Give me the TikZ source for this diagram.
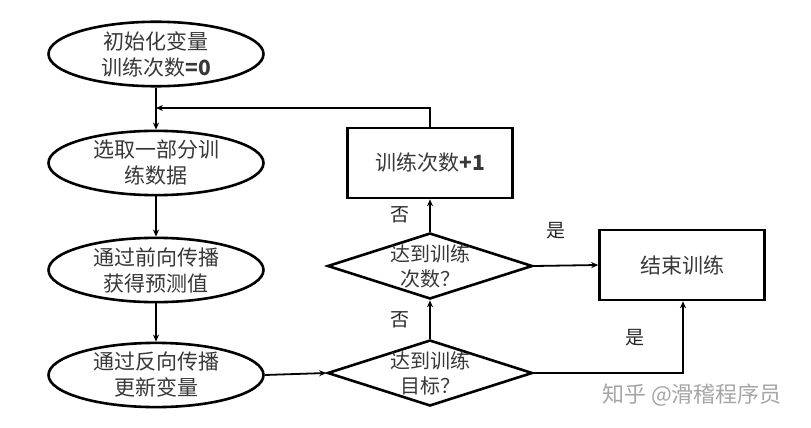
\documentclass[tikz,border=0pt]{standalone}
\usepackage{fontspec}
\setmainfont{Noto Sans CJK SC}
\usetikzlibrary{shapes.geometric,arrows.meta}
\begin{document}
\begin{tikzpicture}[x=1pt,y=-1pt,
  every node/.style={font=\fontsize{21}{26}\selectfont, text=black!78},
  ell/.style={ellipse, draw=black, line width=2.6pt, minimum width=215pt, minimum height=61pt, inner sep=0pt, align=center},
  dia/.style={diamond, draw=black, line width=2.6pt, minimum width=205pt, minimum height=66pt, inner sep=0pt},
  boxnode/.style={rectangle, draw=black, line width=2.6pt, minimum width=165pt, minimum height=70pt, inner sep=0pt, align=center},
  txt/.style={align=center, inner sep=0pt, font=\fontsize{20}{25}\selectfont},
  lbl/.style={font=\fontsize{19}{21}\selectfont, text=black!85, inner sep=0pt},
  conn/.style={draw=black, line width=1.8pt, -{Stealth[length=7pt,width=6pt]}}
]
\useasboundingbox[fill=white] (0,0) rectangle (811,428);

\node[ell] (e1) at (156,54) {初始化变量\\训练次数\textbf{=0}};
\node[ell] (e2) at (156,163) {选取一部分训\\练数据};
\node[ell] (e3) at (156,270) {通过前向传播\\获得预测值};
\node[ell] (e4) at (156,375) {通过反向传播\\更新变量};

\node[boxnode] (r1) at (430,163) {训练次数\textbf{+1}};
\node[dia] (d1) at (430,266) {};
\node[txt] at (d1) {达到训练\\次数？};
\node[dia] (d2) at (430,373) {};
\node[txt] at (d2) {达到训练\\目标？};
\node[boxnode] (r2) at (682,265) {结束训练};

\coordinate (j1) at (156,108);
\coordinate (t1) at (430,108);
\coordinate (c2) at (683,373);

\draw[conn] (e1.south) -- (e2.north);
\draw[conn] (r1.north) -- (t1) -- (j1);
\draw[conn] (e2.south) -- (e3.north);
\draw[conn] (e3.south) -- (e4.north);
\draw[conn] (e4.east) -- (d2.west);
\draw[conn] (d2.north) -- (d1.south);
\draw[conn] (d1.north) -- (r1.south);
\draw[conn] (d1.east) -- (r2.west);
\draw[conn] (d2.east) -- (c2) -- (r2.south -| c2);

\node[lbl] at (400,215) {否};
\node[lbl] at (400,320) {否};
\node[lbl] at (556,231) {是};
\node[lbl] at (635,338) {是};

\node[font=\fontsize{22}{24}\selectfont, text=black!35, inner sep=0pt] (wm) at (692,395) {知乎 @滑稽程序员};
\end{tikzpicture}
\end{document}
